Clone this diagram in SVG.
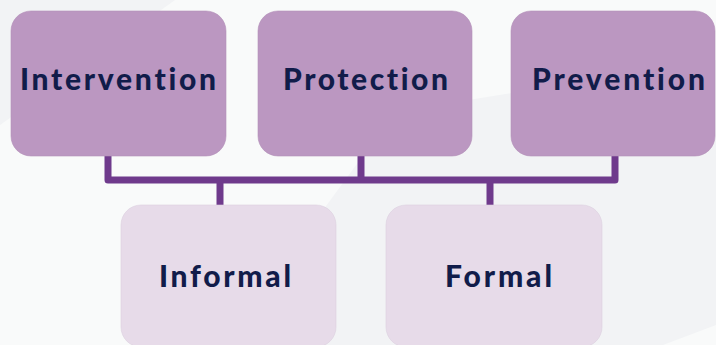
<svg xmlns="http://www.w3.org/2000/svg" width="716" height="345" viewBox="0 0 716 345">
<style>
.top{fill:#bb97c1;stroke:#b391b9;stroke-width:0.6}
.bot{fill:#e7dbe9;stroke:#dcd0df;stroke-width:0.6}
.lbl{font-family:Lato,"Open Sans","Liberation Sans",Arial,sans-serif;font-weight:900;font-size:30px;fill:#111c4a;text-anchor:middle;font-variant-ligatures:none;font-feature-settings:"liga" 0,"dlig" 0}
.conn{fill:none;stroke:#6f3a8c;stroke-width:7;stroke-linejoin:round;stroke-linecap:butt}
</style>
<rect width="716" height="345" fill="#f9fafa"/>
<polygon points="0,0 175,0 0,125" fill="#f2f3f5"/>
<polygon points="224,345 395,112 716,60 716,325 663,345" fill="#f2f3f5"/>
<g id="connectors">
<path class="conn" d="M108,150 V180 H615 V150"/>
<path class="conn" d="M361,150 V180"/>
<path class="conn" d="M220,180 V210"/>
<path class="conn" d="M490,180 V210"/>
</g>
<g id="intervention">
<rect class="top" x="11" y="11" width="215" height="145" rx="20"/>
<text class="lbl" x="118" y="90" textLength="196" lengthAdjust="spacing">Intervention</text>
</g>
<g id="protection">
<rect class="top" x="258" y="11" width="214" height="145" rx="20"/>
<text class="lbl" x="365.5" y="90" textLength="165" lengthAdjust="spacing">Protection</text>
</g>
<g id="prevention">
<rect class="top" x="511" y="11" width="204" height="145" rx="20"/>
<text class="lbl" x="618.5" y="90" textLength="173" lengthAdjust="spacing">Prevention</text>
</g>
<g id="informal">
<rect class="bot" x="121" y="205" width="215" height="142" rx="20"/>
<text class="lbl" x="225" y="287" textLength="132" lengthAdjust="spacing">Informal</text>
</g>
<g id="formal">
<rect class="bot" x="386" y="205" width="216" height="142" rx="20"/>
<text class="lbl" x="498.5" y="287" textLength="107" lengthAdjust="spacing">Formal</text>
</g>
</svg>
